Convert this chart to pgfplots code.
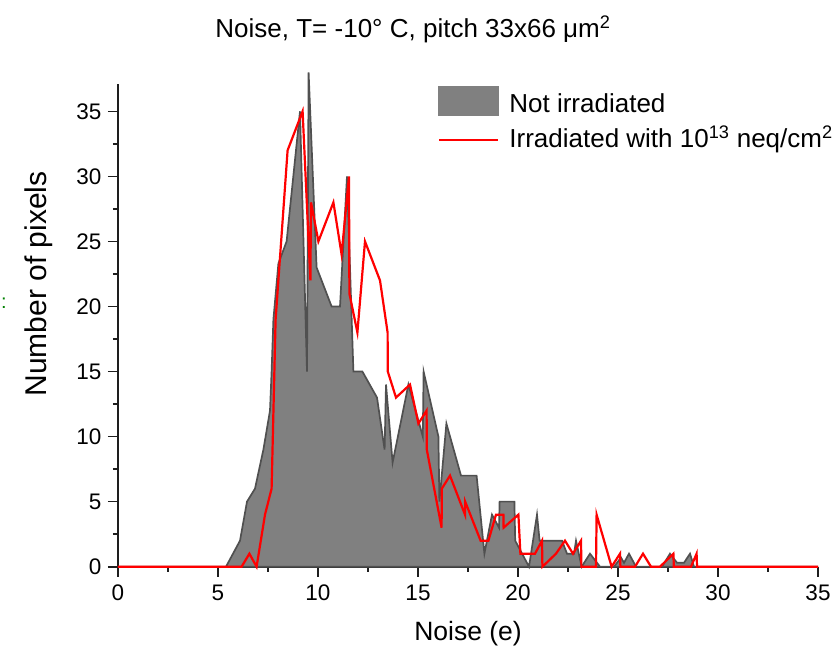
\documentclass[border=0pt]{standalone}
\usepackage{pgfplots}
\pgfplotsset{compat=1.18}
\usepackage{pgfplotstable}
\usepackage{fontspec}
\setmainfont{Liberation Sans}
\definecolor{fillgray}{RGB}{128,128,128}
\definecolor{edgegray}{RGB}{80,80,80}
\definecolor{axisblack}{RGB}{30,30,30}

\pgfplotstableread{
x y
0 0
5.4 0
6.1 2
6.45 5
6.85 6
7.27 9
7.6 12
7.68 15
7.77 19
8.02 23.3
8.43 25
9.1 35
9.45 15
9.53 38
9.93 23
10.68 20
11.1 20
11.45 30
11.77 15
12.22 15
12.95 13
13.33 9
13.4 14
13.73 8
14.52 14
15.24 10
15.28 15
16.02 10
16.07 5
16.42 11
17.15 7
17.93 7
18.32 1
18.7 4
19.05 3
19.08 5
19.82 5
19.86 2
20.55 0
20.95 4
21.08 2
22.2 2
22.45 1
22.8 1
22.9 2
23.18 0
23.6 1
24.1 0
24.8 0
25.15 0.7
25.3 0.3
25.55 1
25.9 0
27.2 0
27.6 1
27.95 0.3
28.3 0.3
28.6 1
28.8 0
35 0
}\grayTable

\pgfplotstableread{
x y
0 0
6.18 0
6.57 1
6.93 0
7.35 4
7.68 6
7.88 19
8.48 32
9.23 35
9.62 22
9.65 28
10.02 25
10.77 28
11.18 24
11.55 30
11.57 21
11.97 18
12.35 25
13.1 22
13.48 18
13.49 15
13.9 13
14.6 14
15.02 11
15.43 12
15.44 9
16.18 3
16.19 6
16.6 7
17.35 4
17.36 5
18.13 2
18.52 2
18.9 4
19.27 4
19.28 3
20.02 4
20.12 1
20.85 1
21.2 2
21.22 0
21.9 1
22.35 2
22.75 1
23.15 2
23.17 0
23.9 0
23.93 4
24.68 0
25.1 1
25.12 0
25.85 0
26.25 1
26.65 0
27.1 0
27.77 1
27.79 0
28.65 0
28.93 1
28.95 0
35 0
}\redTable

\begin{document}
\begin{tikzpicture}
\begin{axis}[
  name=ax,
  scale only axis, width=700pt, height=482.7pt,
  xmin=0, xmax=35, ymin=0, ymax=37.1,
  axis x line*=bottom, axis y line*=left,
  axis line style={line width=1.6pt, color=axisblack},
  xtick={0,5,...,35}, ytick={0,5,...,35},
  minor tick num=1,
  tick align=outside,
  major tick length=10pt, minor tick length=5pt,
  every tick/.style={line width=1.6pt, color=axisblack},
  tick label style={font=\fontsize{22.5}{26}\selectfont, text=black},
  xticklabel style={yshift=-5pt},
  yticklabel style={xshift=-3pt},
  /pgf/number format/assume math mode=true,
  clip=false,
  legend style={at={(axis cs:16,36.95)}, anchor=north west, draw=none, fill=none,
    inner sep=0pt, font=\fontsize{26}{31}\selectfont, row sep=11pt,
    nodes={inner sep=0pt, text height=19pt, text depth=5pt},
    /tikz/every odd column/.append style={column sep=10pt}},
  legend cell align=left,
]
\addplot[fill=fillgray, draw=edgegray, line width=1.7pt,
  legend image code/.code={\fill[fillgray] (0pt,-9pt) rectangle (59pt,19pt);}]
  table[x=x,y=y] {\grayTable} \closedcycle;
\addlegendentry{Not irradiated}
\addplot[color=red, line width=2.2pt,
  legend image code/.code={\draw[red, line width=2.2pt] (0pt,1pt) -- (59pt,1pt);}]
  table[x=x,y=y] {\redTable};
\addlegendentry{Irradiated with 10\textsuperscript{13} neq/cm\textsuperscript{2}}
\end{axis}
\node[anchor=base, font=\fontsize{26}{31}\selectfont] at ([shift={(295pt,528.7pt)}]ax.south west) {Noise, T= -10° C, pitch 33x66 μm\textsuperscript{2}};
\node[anchor=base, font=\fontsize{26.5}{31}\selectfont] at ([shift={(350pt,-73.3pt)}]ax.south west) {Noise (e)};
\node[anchor=base, rotate=90, font=\fontsize{30}{35}\selectfont] at ([shift={(-71pt,282.7pt)}]ax.south west) {Number of pixels};
\node[anchor=center, text=green!50!black, font=\fontsize{20}{24}\selectfont] at ([shift={(-114pt,263.7pt)}]ax.south west) {:};
\pgfresetboundingbox
\path[use as bounding box] ([shift={(-118pt,-89.3pt)}]ax.south west) rectangle ++(837pt,656pt);
\end{tikzpicture}
\end{document}
